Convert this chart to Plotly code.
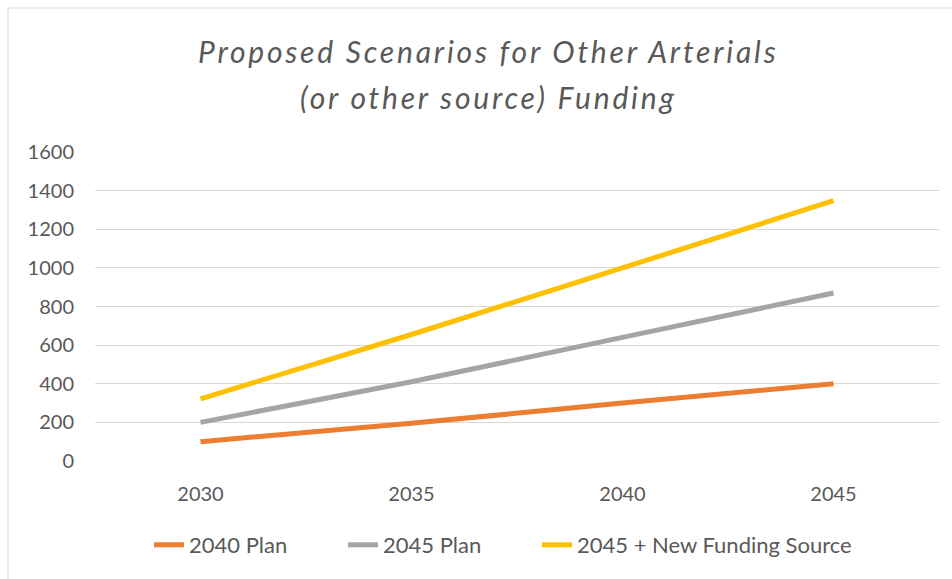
import plotly.graph_objects as go

years = ["2030", "2035", "2040", "2045"]
plan_2040 = [100, 195, 300, 400]
plan_2045 = [200, 410, 640, 870]
plan_2045_new = [322, 655, 1000, 1348]
series_names = ["2040 Plan", "2045 Plan", "2045 + New Funding Source"]
series_colors = ["#ED7D31", "#A5A5A5", "#FFC000"]
series_legends = ["legend", "legend", "legend2"]
y_ticks = [0, 200, 400, 600, 800, 1000, 1200, 1400, 1600]
title_lines = ["Proposed Scenarios for Other Arterials", "(or other source) Funding"]

W, H = 952, 579
L, R, T, B = 95, 13, 152, 118
FONT = "Lato"
TXT = "#595959"

fig = go.Figure()
for name, vals, col, lg in zip(series_names, [plan_2040, plan_2045, plan_2045_new],
                               series_colors, series_legends):
    fig.add_trace(go.Scatter(x=years, y=vals, mode="lines", name=name, legend=lg,
                             line=dict(color=col, width=5)))

pw = W - L - R
ph = H - T - B
def px_to_paper_x(px):
    return (px - L) / pw
def px_to_paper_y(py):
    return (H - B - py) / ph

leg_common = dict(orientation="h", xref="container", yref="container",
                  y=1 - 545 / H, yanchor="middle", xanchor="left",
                  font=dict(size=22, color=TXT, family=FONT),
                  itemwidth=30, tracegroupgap=0, bgcolor="rgba(0,0,0,0)")

title_font = dict(size=30, color=TXT, family=FONT, style="italic")

fig.update_layout(
    width=W, height=H,
    margin=dict(l=L, r=R, t=T, b=B, autoexpand=False),
    paper_bgcolor="white", plot_bgcolor="white",
    font=dict(family=FONT, color=TXT, size=20),
    showlegend=True,
    legend=dict(x=149 / W, entrywidth=149, entrywidthmode="pixels", **leg_common),
    legend2=dict(x=537 / W, **leg_common),
    xaxis=dict(type="category", range=[-0.5, 3.5], showgrid=False, zeroline=False,
               showline=False, ticks="", ticklabelstandoff=19,
               tickfont=dict(size=20, color=TXT, family=FONT)),
    yaxis=dict(range=[0, 1600], tickvals=y_ticks, showgrid=True, gridcolor="#D9D9D9",
               gridwidth=1, zeroline=False, showline=False, ticks="",
               ticklabelstandoff=20, tickfont=dict(size=20, color=TXT, family=FONT)),
    annotations=[
        dict(text='<span style="letter-spacing:2.8px">' + title_lines[0] + "</span>",
             xref="paper", yref="paper",
             x=px_to_paper_x(488), y=px_to_paper_y(51), xanchor="center", yanchor="middle",
             showarrow=False, font=title_font),
        dict(text='<span style="letter-spacing:2.8px">' + title_lines[1] + "</span>",
             xref="paper", yref="paper",
             x=px_to_paper_x(488), y=px_to_paper_y(97), xanchor="center", yanchor="middle",
             showarrow=False, font=title_font),
    ],
    shapes=[
        dict(type="rect", xref="paper", yref="paper", x0=px_to_paper_x(8), x1=px_to_paper_x(1000),
             y0=px_to_paper_y(640), y1=px_to_paper_y(8), line=dict(color="#D9D9D9", width=1),
             fillcolor="rgba(0,0,0,0)", layer="below"),
    ],
)

fig.write_html("out.html")
